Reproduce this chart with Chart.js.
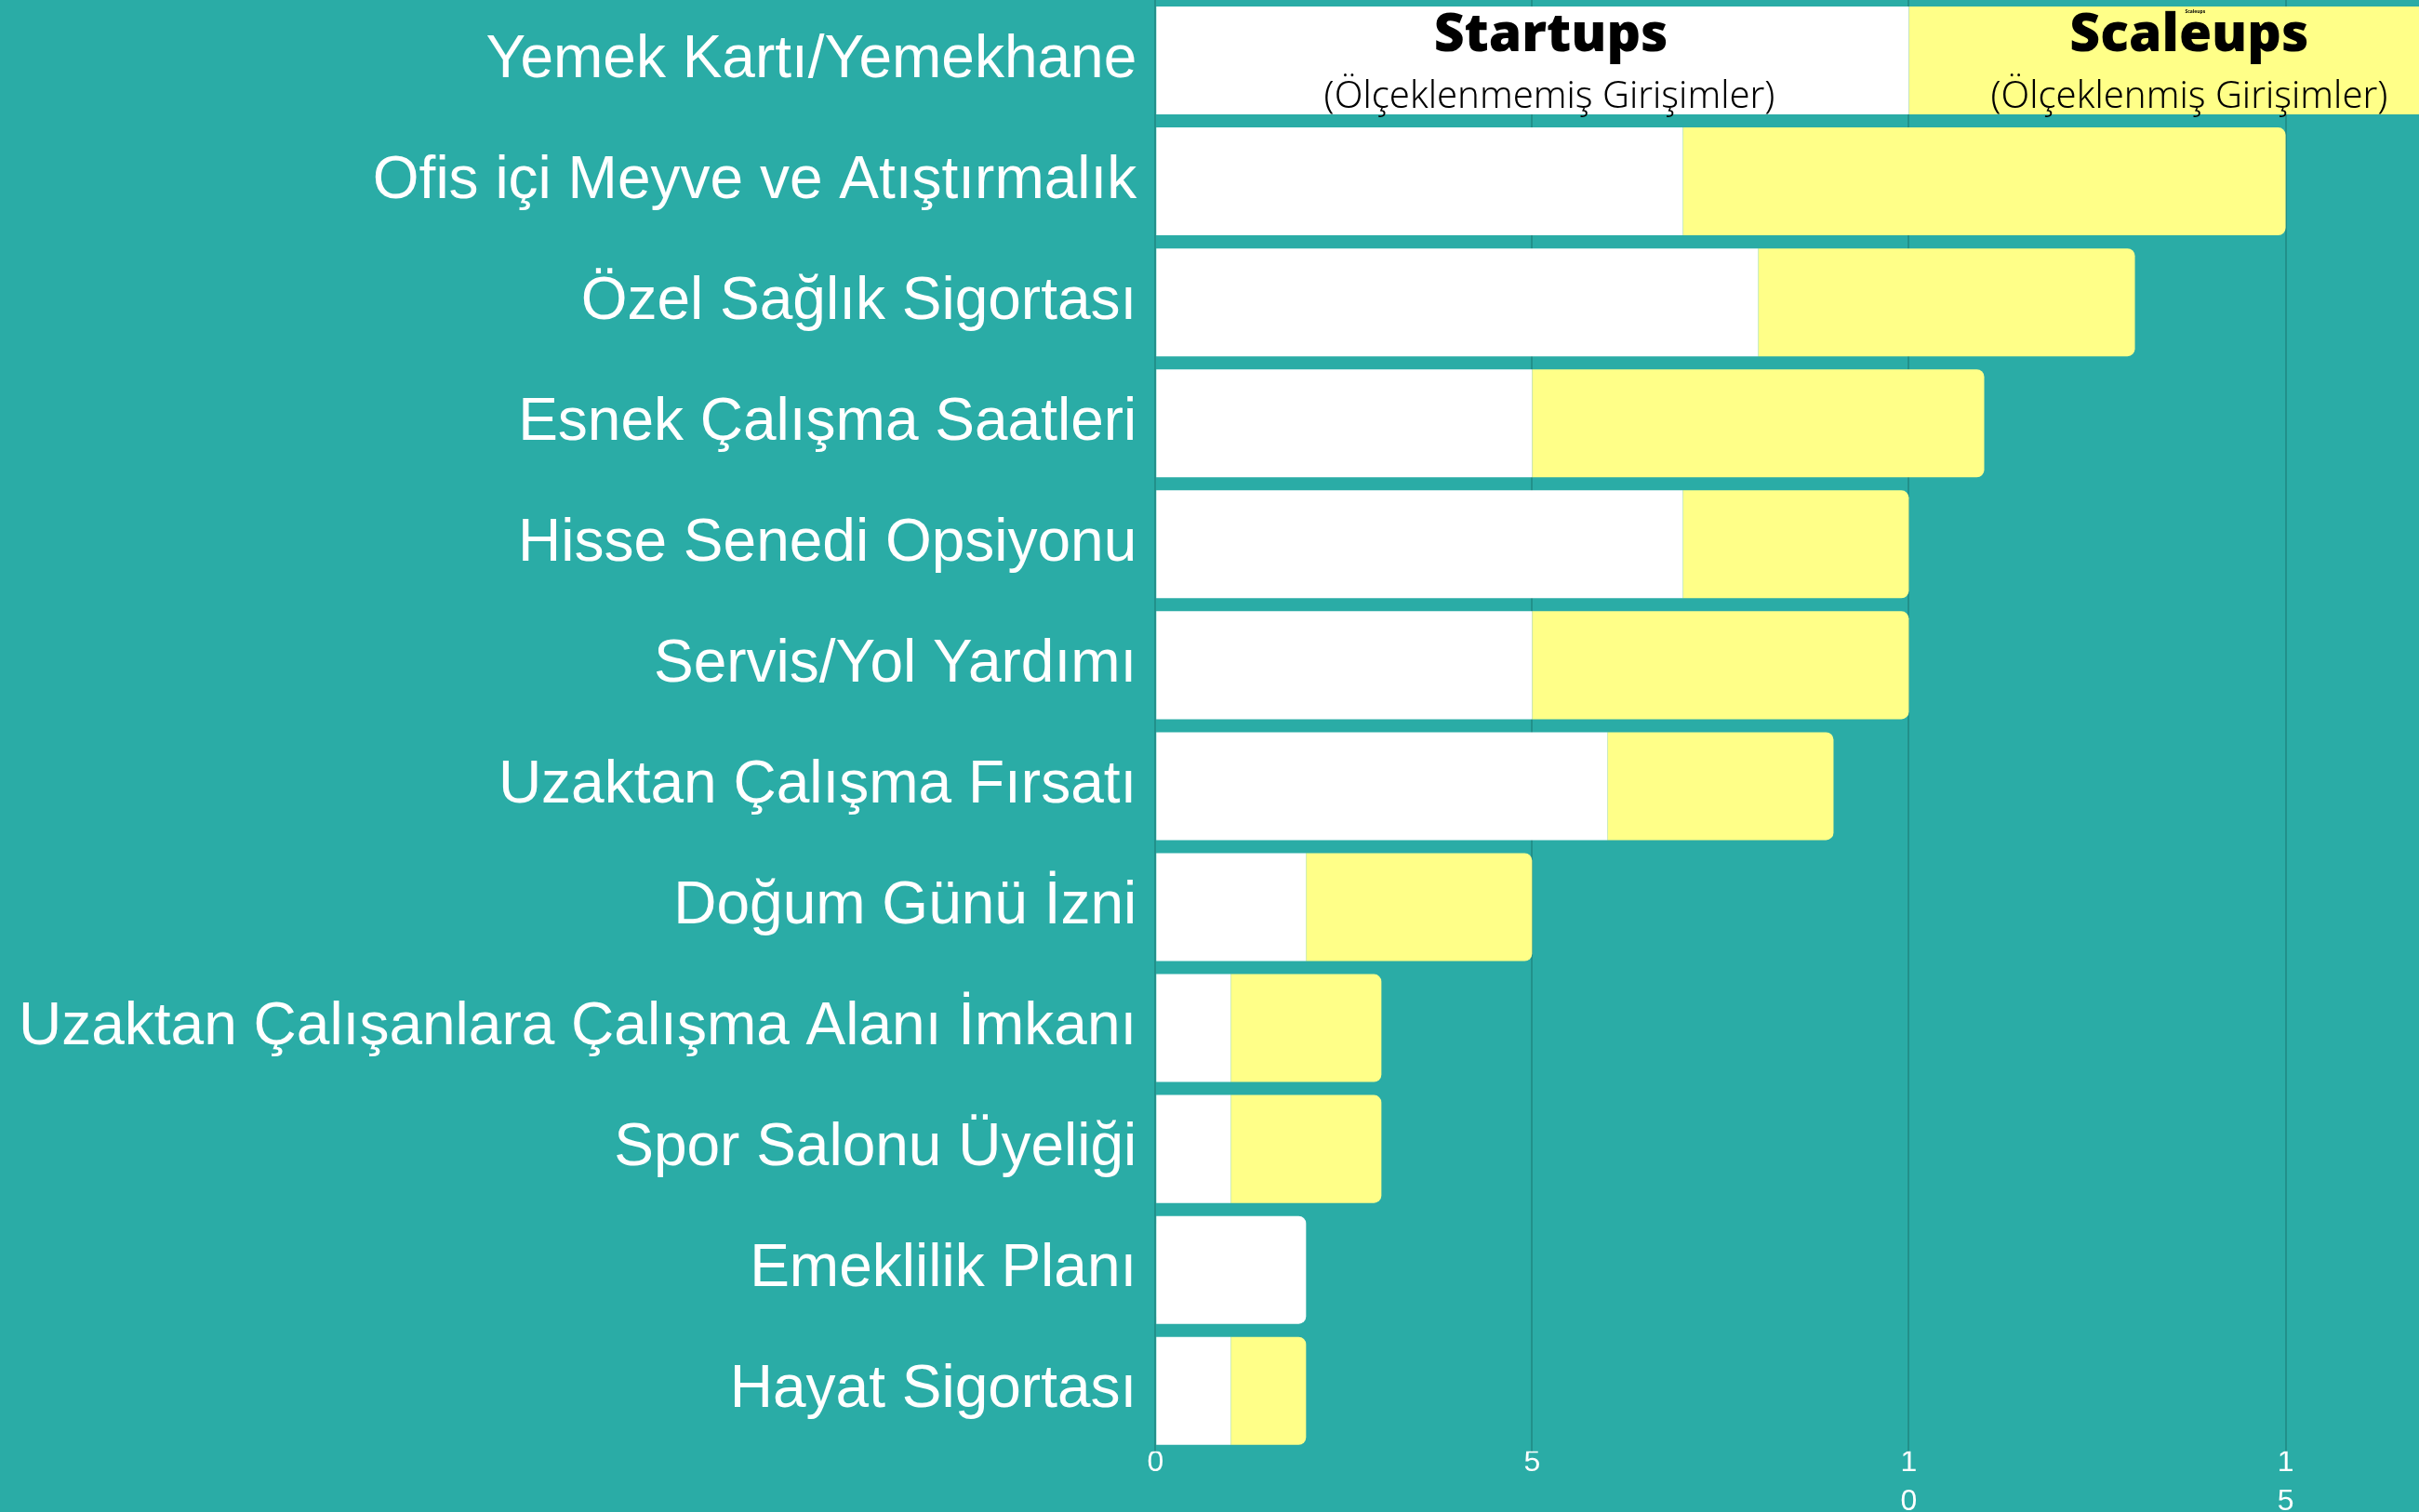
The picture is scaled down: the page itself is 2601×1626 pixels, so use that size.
<!DOCTYPE html>
<html>
<head>
<meta charset="utf-8">
<script src="https://cdn.jsdelivr.net/npm/chart.js@4"></script>
<style>
  html, body { margin: 0; padding: 0; background: #2aaca6; overflow: hidden; }
  #wrap { width: 2601px; height: 1626px; position: relative; overflow: hidden; }
  #box { position: absolute; left: 0; top: 0; width: 2601px; height: 1628px; }
</style>
</head>
<body>
<div id="wrap"><div id="box"><canvas id="chart"></canvas></div></div>
<script>
const categories = [
  'Yemek Kartı/Yemekhane',
  'Ofis içi Meyve ve Atıştırmalık',
  'Özel Sağlık Sigortası',
  'Esnek Çalışma Saatleri',
  'Hisse Senedi Opsiyonu',
  'Servis/Yol Yardımı',
  'Uzaktan Çalışma Fırsatı',
  'Doğum Günü İzni',
  'Uzaktan Çalışanlara Çalışma Alanı İmkanı',
  'Spor Salonu Üyeliği',
  'Emeklilik Planı',
  'Hayat Sigortası'
];
const startups = [10, 7, 8, 5, 7, 5, 6, 2, 1, 1, 2, 1];
const scaleups = [7, 8, 5, 6, 3, 5, 3, 3, 2, 2, 0, 1];
const xTicks = [0, 5, 10, 15];
const xMax = 16.77;

const GRID = '#22908a';
const YELLOW = '#ffff88';

// header text sitting inside the first bar
const headerPlugin = {
  id: 'header',
  afterDatasetsDraw(chart) {
    const ctx = chart.ctx;
    const x = chart.scales.x;
    const y = chart.scales.y.getPixelForValue(0);
    ctx.save();
    ctx.fillStyle = '#000';
    ctx.textAlign = 'center';
    ctx.textBaseline = 'middle';
    ctx.font = '900 57px "Noto Sans"';
    ctx.fillText('Startups', x.getPixelForValue(5.25), y - 26);
    ctx.fillText('Scaleups', x.getPixelForValue(13.72), y - 26);
    ctx.font = '300 40px "Noto Sans"';
    ctx.fillText('(Ölçeklenmemiş Girişimler)', x.getPixelForValue(5.23), y + 40);
    ctx.fillText('(Ölçeklenmiş Girişimler)', x.getPixelForValue(13.72), y + 40);
    ctx.font = 'bold 5px "Noto Sans"';
    ctx.fillText('Scaleups', x.getPixelForValue(13.8), 13);
    ctx.restore();
  }
};

new Chart(document.getElementById('chart').getContext('2d'), {
  type: 'bar',
  data: {
    labels: categories,
    datasets: [
      {
        label: 'Startups',
        data: startups,
        backgroundColor: '#ffffff',
        borderRadius: 8,
        barPercentage: 1,
        categoryPercentage: 0.892
      },
      {
        label: 'Scaleups',
        data: scaleups,
        backgroundColor: YELLOW,
        borderRadius: 8,
        barPercentage: 1,
        categoryPercentage: 0.892
      }
    ]
  },
  options: {
    indexAxis: 'y',
    responsive: true,
    maintainAspectRatio: false,
    animation: false,
    layout: { padding: 0 },
    scales: {
      x: {
        stacked: true,
        min: 0,
        max: xMax,
        afterBuildTicks(axis) {
          axis.ticks = xTicks.map(v => ({ value: v }));
        },
        grid: { color: GRID, lineWidth: 2, drawTicks: false },
        border: { display: false },
        ticks: {
          color: '#ffffff',
          maxRotation: 0,
          padding: -8,
          font: { family: 'Liberation Sans', size: 32, lineHeight: 1.3 },
          callback: v => String(v).split('')
        }
      },
      y: {
        stacked: true,
        afterFit(scale) {
          scale.paddingTop = 0;
          scale.paddingBottom = 0;
        },
        grid: { display: false, drawTicks: false },
        border: { display: false },
        ticks: {
          color: '#ffffff',
          padding: 20,
          font: { family: 'Liberation Sans', size: 64 }
        }
      }
    },
    plugins: {
      legend: { display: false },
      tooltip: { enabled: false }
    }
  },
  plugins: [headerPlugin]
});
</script>
</body>
</html>
